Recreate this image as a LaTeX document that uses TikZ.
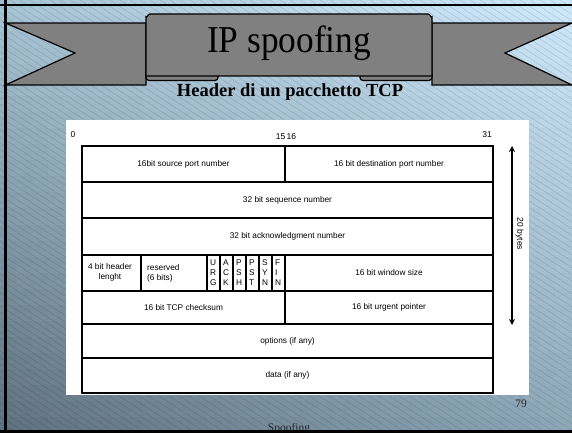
\documentclass[tikz,border=0pt]{standalone}
\usepackage{fontspec}
\setmainfont{Liberation Serif}
\newfontfamily\tabfont{Liberation Sans}
\usetikzlibrary{arrows.meta}
\definecolor{bandgray}{HTML}{808080}
\begin{document}
\begin{tikzpicture}[x=1pt,y=-1pt,
  hatch/.style={line width=0.3pt, draw=black!80!blue, opacity=0.2},
  bandline/.style={draw=black, line width=1.2pt, fill=bandgray, line join=miter},
  tline/.style={draw=black, line width=1.4pt},
  celltext/.style={font=\tabfont\fontsize{8.3}{10}\selectfont, inner sep=0pt},
  flagtext/.style={font=\tabfont\fontsize{8.3}{10}\selectfont, inner sep=0pt, anchor=west},
  bitlabel/.style={font=\tabfont\fontsize{8.5}{10}\selectfont, inner sep=0pt},
  arr/.style={draw=black, line width=1.3pt, {Stealth[length=6pt,width=6pt]}-{Stealth[length=6pt,width=6pt]}}
]
\useasboundingbox (0,0) rectangle (572,433);
% background: bilinear gradient between the four corner colours
\begin{scope}[shift={(0,433)}, x=572pt, y=433pt]
  \clip (0,0) rectangle (1,1);
  \foreach \i in {0,...,35} {
    \foreach \j in {0,...,26} {
      \pgfmathsetmacro{\uu}{(\i+0.5)/36}
      \pgfmathsetmacro{\vv}{(\j+0.5)/27}
      \pgfmathsetmacro{\rr}{((1-\uu)*(1-\vv)*94 + \uu*(1-\vv)*141 + (1-\uu)*\vv*168 + \uu*\vv*208)/255}
      \pgfmathsetmacro{\gg}{((1-\uu)*(1-\vv)*113 + \uu*(1-\vv)*167 + (1-\uu)*\vv*197 + \uu*\vv*234)/255}
      \pgfmathsetmacro{\bb}{((1-\uu)*(1-\vv)*126 + \uu*(1-\vv)*184 + (1-\uu)*\vv*213 + \uu*\vv*252)/255}
      \definecolor{cellc}{rgb}{\rr,\gg,\bb}
      \fill[cellc] (\i/36,\j/27) rectangle ({(\i+1.5)/36},{(\j+1.5)/27});
    }
  }
\end{scope}
\begin{scope}
  \clip (0,0) rectangle (572,433);
  \foreach \i in {-70,...,60} \draw[hatch] (\i*10,0) -- ++(666,433);
\end{scope}
% frame
\draw[line width=2pt] (0,5.5) -- (572,5.5);
\draw[line width=2.4pt] (5.5,0) -- (5.5,433);
% banner tails
\draw[bandline] (5.5,23) -- (146,23) -- (146,85) -- (5.5,85) -- (75,53) -- cycle;
\draw[bandline] (572,23) -- (432,23) -- (432,85) -- (572,85) -- (505,53) -- cycle;
% rolls
\draw[bandline, rounded corners=3pt] (146,72) rectangle (218,80.5);
\draw[bandline, rounded corners=3pt] (360,72) rectangle (432,80.5);
% scroll
\draw[bandline] (146,76) -- (146,17) to[out=-90,in=180] (150,14) -- (428,14) to[out=0,in=-90] (432,17) -- (432,76) -- cycle;
\node[font=\fontsize{38}{40}\selectfont, inner sep=0pt, anchor=base, xscale=0.93] (title) at (289,53) {IP spoofing};
\node[font=\bfseries\fontsize{18.5}{20}\selectfont, inner sep=0pt, anchor=base] (sub) at (290,96.5) {Header di un pacchetto TCP};
% white panel
\fill[white] (66,120) rectangle (529,395);
% table
\draw[tline] (82,146) rectangle (493,393);
\foreach \yy in {182,218,255,291,324,358} \draw[tline] (82,\yy) -- (493,\yy);
\draw[tline] (285,146) -- (285,182);
\draw[tline] (285,255) -- (285,324);
\foreach \xx in {141,207,220,233,246,259,272} \draw[tline] (\xx,255) -- (\xx,291);
% bit labels
\node[bitlabel] (b0) at (73,135) {0};
\node[bitlabel] (b15) at (286,137) {15\,16};
\node[bitlabel] (b31) at (487,135) {31};
% cell texts
\node[celltext] (srcport) at (183.5,164.5) {16bit source port number};
\node[celltext] (dstport) at (389,164.5) {16 bit destination port number};
\node[celltext] (seq) at (287.5,200.5) {32 bit sequence number};
\node[celltext] (ack) at (287.5,236.5) {32 bit acknowledgment number};
\node[celltext, align=center] (hlen) at (110,272.5) {4 bit header\\lenght};
\node[celltext, align=left, anchor=west] (resv) at (147,273) {reserved\\(6 bits)};
\foreach \cx/\a/\b/\c [count=\k] in {207/U/R/G, 220/A/C/K, 233/P/S/H, 246/P/S/T, 259/S/Y/N, 272/F/I/N} {
  \node[flagtext] (f\k a) at (\cx+3,263) {\a};
  \node[flagtext] (f\k b) at (\cx+3,273) {\b};
  \node[flagtext] (f\k c) at (\cx+3,283) {\c};
}
\node[celltext] (win) at (389,273) {16 bit window size};
\node[celltext] (csum) at (183.5,307.5) {16 bit TCP checksum};
\node[celltext] (urg) at (389,307.5) {16 bit urgent pointer};
\node[celltext] (opt) at (287.5,341) {options (if any)};
\node[celltext] (data) at (287.5,375.5) {data (if any)};
% 20 bytes arrow
\coordinate (atop) at (512,146);
\coordinate (abot) at (512,325);
\draw[arr] (atop) -- (abot);
\node[bitlabel, rotate=-90] (bytes) at (519.5,234) {20 bytes};
% footer
\node[font=\fontsize{11.5}{12}\selectfont, inner sep=0pt, anchor=base, text=black!85] (pnum) at (521,407) {79};
\node[font=\fontsize{11.5}{12}\selectfont, inner sep=0pt, anchor=base, text=black!85] (foot) at (289,431) {Spoofing};
\fill[black] (0,430) rectangle (572,433);
\end{tikzpicture}
\end{document}
